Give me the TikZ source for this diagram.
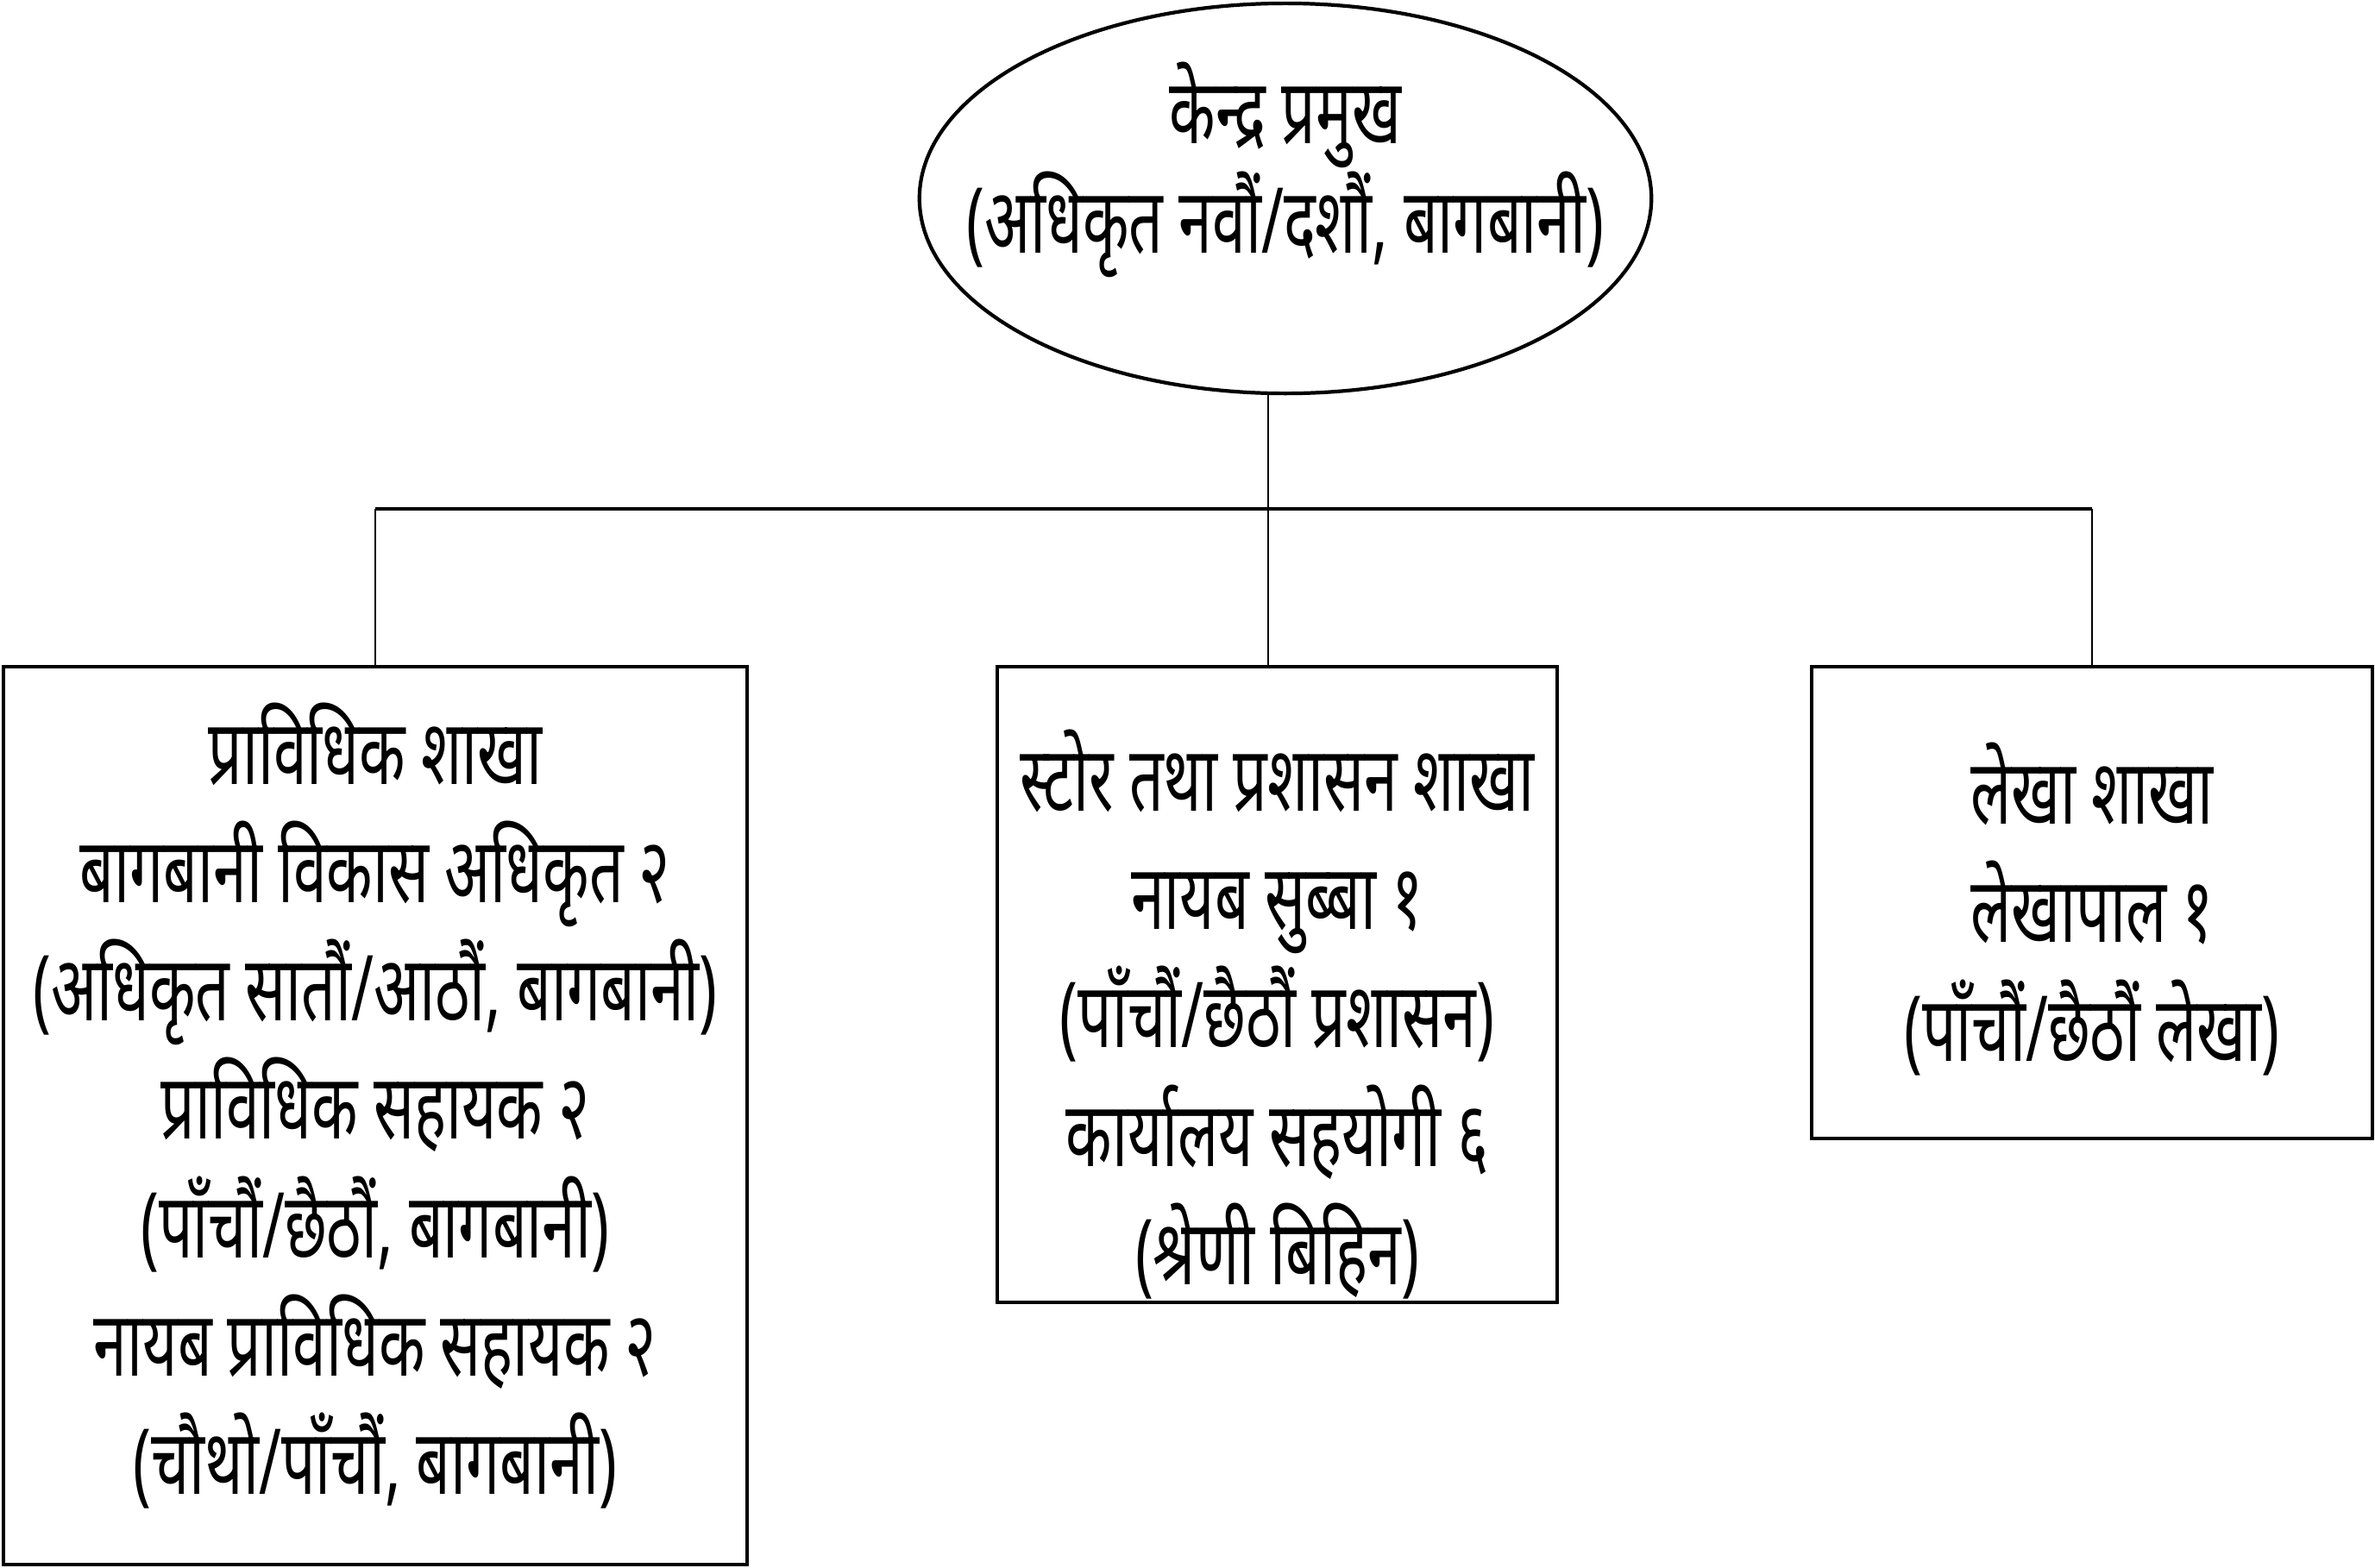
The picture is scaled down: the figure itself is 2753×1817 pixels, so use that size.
\documentclass[tikz,border=0pt]{standalone}
\usepackage{fontspec}
\newfontfamily\dev[Script=Devanagari,FakeStretch=0.66]{Noto Sans}
\usetikzlibrary{shapes.geometric}
\begin{document}
\begin{tikzpicture}[x=0.01cm,y=-0.01cm,
  shapeline/.style={draw=black,line width=1.2pt,inner sep=0pt,outer sep=0pt},
  boxshape/.style={shapeline,rectangle},
  txt/.style={font=\dev\fontsize{30}{39}\selectfont,align=center,inner sep=0pt},
  conn/.style={draw=black,line width=0.8pt},
  bar/.style={draw=black,line width=1.1pt}]
\useasboundingbox (0,0) rectangle (2753,1817);
% shapes
\node[shapeline,ellipse,minimum width=8.48cm,minimum height=4.52cm] (head) at (1490,230) {};
\node[boxshape,minimum width=8.62cm,minimum height=10.41cm] (lbox) at (435,1293.5) {};
\node[boxshape,minimum width=6.49cm,minimum height=7.37cm] (cbox) at (1480.5,1141.5) {};
\node[boxshape,minimum width=6.50cm,minimum height=5.47cm] (rbox) at (2425,1046.5) {};
% texts
\node[txt,font=\dev\fontsize{30}{33}\selectfont] (headtxt) at (1490,197) {केन्द्र प्रमुख\\(अधिकृत नवौं/दशौं, बागबानी)};
\node[txt] (ltxt) at (435,1282) {प्राविधिक शाखा\\बागबानी विकास अधिकृत २\\(अधिकृत सातौं/आठौं, बागबानी)\\प्राविधिक सहायक २\\(पाँचौं/छैठौं, बागबानी)\\नायब प्राविधिक सहायक २\\(चौथो/पाँचौं, बागबानी)};
\node[txt] (ctxt) at (1480.5,1176) {स्टोर तथा प्रशासन शाखा\\नायब सुब्बा १\\(पाँचौं/छैठौं प्रशासन)\\कार्यालय सहयोगी ६\\(श्रेणी बिहिन)};
\node[txt] (rtxt) at (2425,1054) {लेखा शाखा\\लेखापाल १\\(पाँचौं/छैठौं लेखा)};
% connectors
\coordinate (jl) at (lbox.north |- 0,590);
\coordinate (jr) at (rbox.north |- 0,590);
\coordinate (jc) at (1470,590);
\draw[bar] (jl) -- (jr);
\draw[conn] (jl) -- (jl |- lbox.north);
\draw[conn] (jr) -- (jr |- rbox.north);
\draw[conn] (jc |- head.south) -- (jc |- cbox.north);
\end{tikzpicture}
\end{document}
